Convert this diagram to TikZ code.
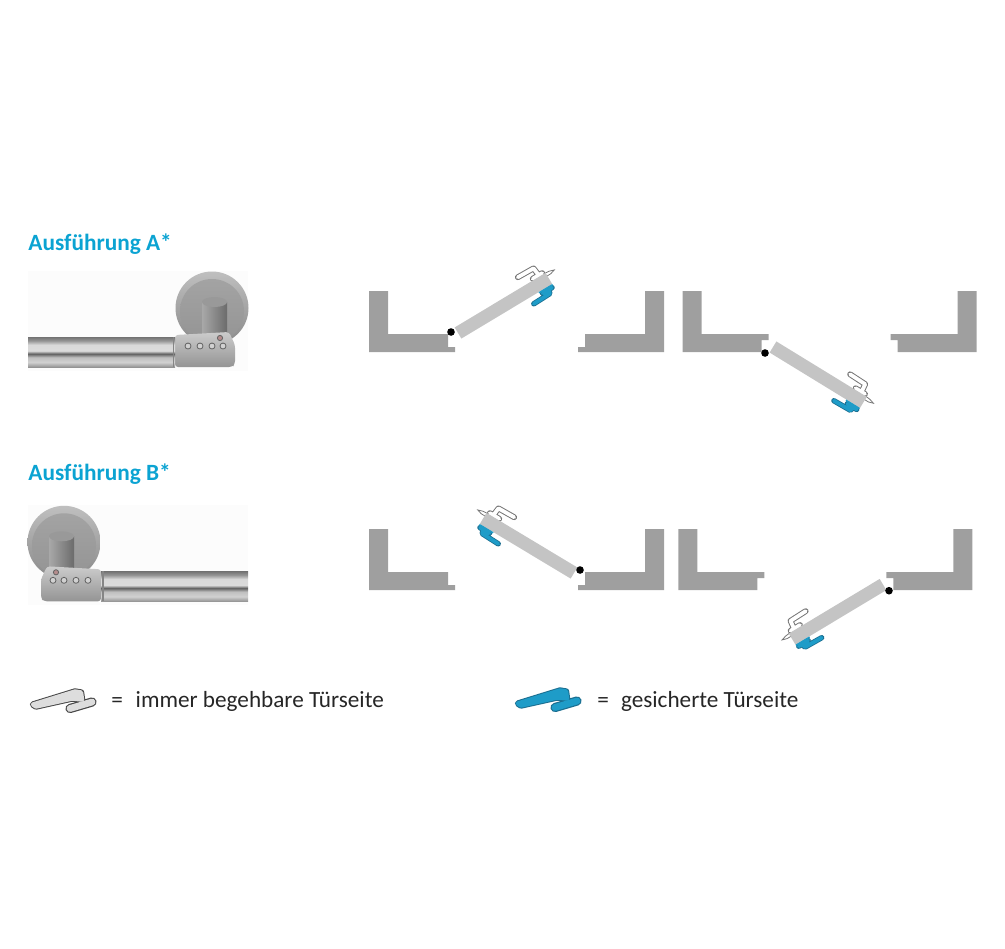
\documentclass[tikz,border=0pt]{standalone}
\usepackage{fontspec}
\setmainfont{Carlito}
\definecolor{headBlue}{HTML}{0BA3D2}
\definecolor{wallGray}{HTML}{9F9F9F}
\definecolor{leafGray}{HTML}{C4C4C4}
\definecolor{lockBlue}{HTML}{1E9CC8}
\definecolor{lockEdge}{HTML}{1B6E90}
\definecolor{freeEdge}{HTML}{777777}
\definecolor{freeFill}{HTML}{DDDDDD}
\pgfdeclareverticalshading{barShade}{100bp}{
  color(0bp)=(black!42);color(25bp)=(black!42);color(33bp)=(black!18);color(41bp)=(black!25);
  color(47bp)=(black!62);color(52bp)=(black!14);color(62bp)=(black!15);color(69bp)=(black!42);color(75bp)=(black!55);color(100bp)=(black!55)}
\tikzstyle{wallShape}=[fill=wallGray]
\tikzstyle{leafShape}=[fill=leafGray]
\tikzstyle{hingeDot}=[circle,fill=black,inner sep=0pt,minimum size=3.8pt]
\tikzstyle{strokeRound}=[line cap=round,line join=round]
\tikzstyle{freeOuter}=[strokeRound,draw=freeEdge,line width=2.9pt]
\tikzstyle{freeInner}=[strokeRound,draw=white,line width=1.9pt]
\tikzstyle{lockOuter}=[strokeRound,draw=lockEdge,line width=2.7pt]
\tikzstyle{lockInner}=[strokeRound,draw=lockBlue,line width=1.9pt]
\tikzstyle{headLabel}=[anchor=base west,inner sep=0pt,text=headBlue,font=\fontsize{11.65}{13}\selectfont\bfseries]
\tikzstyle{legendLabel}=[anchor=base west,inner sep=0pt,text=black!85,font=\fontsize{11.6}{14}\selectfont]
\tikzstyle{keyRing}=[draw=black!62,line width=.4pt,fill=black!18]

\begin{document}
\begin{tikzpicture}[x=.5pt,y=-.5pt]
\useasboundingbox (0,0) rectangle (1005,948);
% wall with the lip at the bottom / at the top
\newcommand{\wallLow}[3]{
        \fill[wallShape,shift={(#1,#2)},xscale=#3]
        (0,0) -- (19,0) -- (19,43) -- (79,43) -- (79,56) -- (86,56) -- (86,61) -- (0,61) -- cycle;
}
\newcommand{\wallHigh}[3]{
        \fill[wallShape,shift={(#1,#2)},xscale=#3]
        (0,0) -- (19,0) -- (19,43) -- (86,43) -- (86,49) -- (79,49) -- (79,61) -- (0,61) -- cycle;
}
% door leaf with both handles
\newcommand{\doorLeaf}[4]{
\begin{scope}[shift={(#1,#2)},rotate=#3,xscale=#4]
        \draw[freeEdge,fill=white,line width=.4pt] (105,-6.5) -- (110,-6) -- (115,-4.5) -- (110,-3) -- (105,-3) -- cycle;
        \draw[freeOuter] (80,-17) -- (98,-16.5) -- (99,-8) (92,-8) -- (103,-8);
        \draw[freeInner] (80,-17) -- (98,-16.5) -- (99,-8) (92,-8) -- (103,-8);
        \fill[leafShape] (0,-6.5) -- (106,-6.5) -- (106,6.5) -- (0,6.5) -- cycle;
        \draw[lockOuter] (80,14) -- (99,13.5) -- (100,10) (93,9.5) -- (104,9.5);
        \draw[lockInner] (80,14) -- (99,13.5) -- (100,10) (93,9.5) -- (104,9.5);
        \fill[lockBlue] (90,6.5) -- (106,6.5) -- (106,8) -- (90,8) -- cycle;
\end{scope}
}
% photo of the handle, drawn with the knob on the right
\newcommand{\handlePhoto}[3]{
\begin{scope}[shift={(#1,#2)},xscale=#3]
        \fill[black!1] (28,271) rectangle (248,371);
        \shade[top color=black!25,bottom color=black!46] (212,308) circle (36.5);
        \shade[top color=black!36,bottom color=black!42] (212,311) circle (32);
        \shade[left color=black!34,right color=black!58] (202,302) rectangle (227,335);
        \fill[black!40] (214.5,302) ellipse (12.5 and 5);
        \shade[top color=black!20,bottom color=black!42,rounded corners=1.5pt] (175,335) -- (229,332) -- (235,345) -- (235,364) -- (232,367) -- (175,367) -- cycle;
        \shade[shading=barShade] (28,337) rectangle (175,367);
        \fill[black!48] (172.5,337) rectangle (174,367);
        \foreach \x in {188,200,212,223} {
                \draw[keyRing] (\x,346) circle (3);
        }
        \draw[keyRing,fill=red!35!black!45] (220,338) circle (2.6);
\end{scope}
}
% legend sign
\newcommand{\handleIcon}[4]{
\begin{scope}[shift={(#1,#2)}]
        \draw[strokeRound,draw=#3,fill=#3,line width=3.2pt] (5,18) -- (47,5) -- (53,6) -- (54,13) -- (44,12) -- (8,20) -- cycle;
        \draw[strokeRound,draw=#3,line width=4.6pt] (42,22) -- (64,15.5);
        \draw[strokeRound,draw=#4,fill=#4,line width=2.2pt] (5,18) -- (47,5) -- (53,6) -- (54,13) -- (44,12) -- (8,20) -- cycle;
        \draw[strokeRound,draw=#4,line width=3.4pt] (42,22) -- (64,15.5);
\end{scope}
}
% door openings
        \wallLow{369}{291}{1}
        \wallLow{664}{291}{-1}
        \wallHigh{682.7}{291}{1}
        \wallHigh{976.7}{291}{-1}
        \wallLow{369}{529}{1}
        \wallLow{664}{529}{-1}
        \wallHigh{678.3}{529}{1}
        \wallHigh{972.3}{529}{-1}
        \doorLeaf{458}{333}{31}{1}
        \doorLeaf{773}{347}{-31.5}{1}
        \doorLeaf{574}{573}{-31}{-1}
        \doorLeaf{883}{584.5}{31}{-1}
        \node[hingeDot] (hingeOne) at (451,332) {};
        \node[hingeDot] (hingeTwo) at (765,353) {};
        \node[hingeDot] (hingeThree) at (580,570) {};
        \node[hingeDot] (hingeFour) at (889,590.7) {};
% handle photos and headings
        \handlePhoto{0}{0}{1}
        \handlePhoto{276}{234.3}{-1}
        \node[headLabel] (headA) at (28,250) {Ausführung A*};
        \node[headLabel] (headB) at (28,480) {Ausführung B*};
% legend
        \handleIcon{28}{686.5}{black!72}{freeFill}
        \handleIcon{513}{685.5}{lockEdge}{lockBlue}
        \node[legendLabel] (legendFree) at (111,707) {=\hspace{.55em}immer begehbare Türseite};
        \node[legendLabel] (legendLock) at (597,707) {=\hspace{.52em}gesicherte Türseite};
\end{tikzpicture}
\end{document}
